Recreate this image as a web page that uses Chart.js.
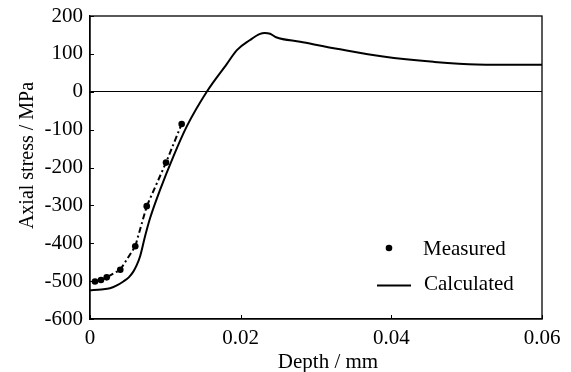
<!DOCTYPE html>
<html><head><meta charset="utf-8">
<script src="https://cdn.jsdelivr.net/npm/chart.js@4/dist/chart.umd.min.js"></script>
<style>html,body{margin:0;padding:0;background:#fff}canvas{display:block}</style>
</head><body>
<canvas id="c" width="571" height="372"></canvas>
<script>
// ---- data ----
const measDepth  = [0.00066, 0.00146, 0.00222, 0.00402, 0.00601, 0.00753, 0.01009, 0.01217];
const measStress = [-501, -497, -490, -470, -408, -302, -187, -85];

const calcDepth  = [0, 0.0015, 0.00265, 0.0035, 0.00443, 0.00515, 0.00575, 0.0062, 0.00664, 0.0073, 0.00797, 0.0093, 0.01106, 0.01283, 0.0155, 0.01815, 0.0195, 0.0212, 0.0225, 0.0232, 0.0239, 0.0247, 0.0279, 0.0332, 0.0389, 0.0456, 0.0513, 0.06];
const calcStress = [-524, -522, -519, -512, -501, -490, -475, -458, -435, -382, -334, -259, -171, -92, 0, 73, 110, 136, 152, 155, 153, 144, 132, 112, 93, 79, 72, 71];

const xTickValues = [0, 0.02, 0.04, 0.06];
const xTickLabels = ['0', '0.02', '0.04', '0.06'];
const yTickValues = [-600, -500, -400, -300, -200, -100, 0, 100, 200];
const yTickLabels = ['-600', '-500', '-400', '-300', '-200', '-100', '0', '100', '200'];

const seriesNames = ['Measured', 'Calculated'];
const xTitle = 'Depth / mm';
const yTitle = 'Axial stress / MPa';

const FONT = '"Liberation Serif", "Times New Roman", serif';

const deco = {
  id: 'deco',
  afterDraw(chart) {
    const ctx = chart.ctx, a = chart.chartArea, xs = chart.scales.x, ys = chart.scales.y;
    ctx.save();
    ctx.strokeStyle = '#000';
    ctx.lineWidth = 1.3;
    ctx.strokeRect(a.left, a.top, a.right - a.left, a.bottom - a.top);
    ctx.lineWidth = 1;
    yTickValues.forEach(v => {
      const p = Math.round(ys.getPixelForValue(v)) + 0.5;
      ctx.beginPath(); ctx.moveTo(a.left, p); ctx.lineTo(a.left + 4, p); ctx.stroke();
    });
    xTickValues.forEach(v => {
      const p = Math.round(xs.getPixelForValue(v)) + 0.5;
      ctx.beginPath(); ctx.moveTo(p, a.bottom); ctx.lineTo(p, a.bottom - 4); ctx.stroke();
    });
    ctx.fillStyle = '#000';
    ctx.textAlign = 'center';
    ctx.textBaseline = 'alphabetic';
    ctx.font = '21px ' + FONT;
    ctx.fillText(xTitle, (a.left + a.right) / 2 + 12, 368);
    ctx.save();
    ctx.font = '20px ' + FONT;
    ctx.translate(33, (a.top + a.bottom) / 2 - 12);
    ctx.rotate(-Math.PI / 2);
    ctx.fillText(yTitle, 0, 0);
    ctx.restore();
    // legend
    const d0 = chart.data.datasets[0], d1 = chart.data.datasets[1];
    ctx.font = '21px ' + FONT;
    ctx.textAlign = 'left';
    ctx.fillStyle = d0.pointBackgroundColor;
    ctx.beginPath(); ctx.arc(389, 248, 3.3, 0, Math.PI * 2); ctx.fill();
    ctx.strokeStyle = d1.borderColor; ctx.lineWidth = d1.borderWidth;
    ctx.beginPath(); ctx.moveTo(377, 285.5); ctx.lineTo(411, 285.5); ctx.stroke();
    ctx.fillStyle = '#000';
    ctx.fillText(seriesNames[0], 423, 255);
    ctx.fillText(seriesNames[1], 424, 290);
    ctx.restore();
  }
};

new Chart(document.getElementById('c'), {
  type: 'line',
  data: {
    datasets: [
      {
        label: seriesNames[0],
        data: measDepth.map((x, i) => ({x, y: measStress[i]})),
        borderColor: '#000',
        borderWidth: 2,
        borderDash: [6, 3, 2, 3],
        pointRadius: 3.3,
        pointBackgroundColor: '#000',
        pointBorderWidth: 0,
        tension: 0
      },
      {
        label: seriesNames[1],
        data: calcDepth.map((x, i) => ({x, y: calcStress[i]})),
        borderColor: '#000',
        borderWidth: 2,
        pointRadius: 0,
        cubicInterpolationMode: 'monotone'
      }
    ]
  },
  options: {
    responsive: false,
    animation: false,
    devicePixelRatio: 1,
    layout: { padding: { left: 0, top: 16, right: 29, bottom: 0 } },
    plugins: { legend: { display: false }, tooltip: { enabled: false } },
    scales: {
      x: {
        type: 'linear', min: 0, max: 0.06,
        afterBuildTicks: s => { s.ticks = xTickValues.map(v => ({value: v})); },
        afterFit: s => { s.height = 53; s.paddingLeft = 0; s.paddingRight = 0; },
        ticks: {
          color: '#000', font: { family: FONT, size: 21 }, padding: 7, maxRotation: 0,
          callback: (v) => xTickLabels[xTickValues.indexOf(v)]
        },
        grid: { display: false, drawTicks: false },
        border: { display: true, color: '#000', width: 1.3 }
      },
      y: {
        type: 'linear', min: -600, max: 200,
        afterBuildTicks: s => { s.ticks = yTickValues.map(v => ({value: v})); },
        afterFit: s => { s.width = 90; s.paddingTop = 0; s.paddingBottom = 0; },
        ticks: {
          color: '#000', font: { family: FONT, size: 21 }, padding: 7,
          callback: (v) => yTickLabels[yTickValues.indexOf(v)]
        },
        grid: {
          drawTicks: false,
          color: c => (c.tick && c.tick.value === 0) ? '#000' : 'rgba(0,0,0,0)',
          lineWidth: 1
        },
        border: { display: true, color: '#000', width: 1.3 }
      }
    }
  },
  plugins: [deco]
});
</script>
</body></html>
